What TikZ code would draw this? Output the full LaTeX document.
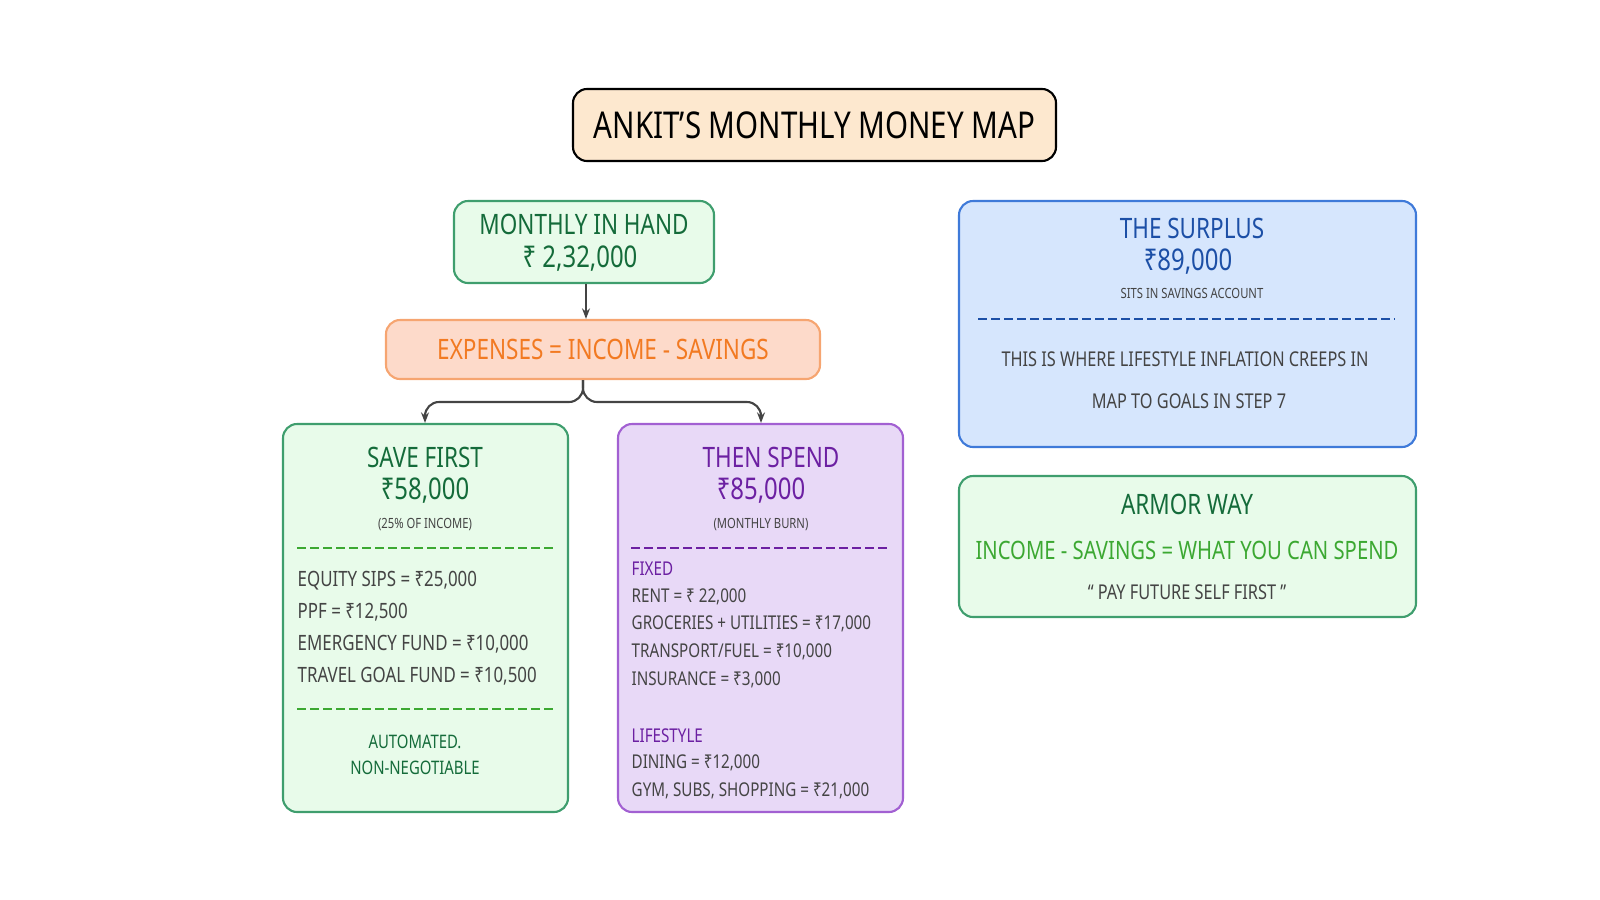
\documentclass[tikz,border=0pt]{standalone}
\usepackage{fontspec}
\setmainfont{Noto Sans}[FakeStretch=0.8]
\usetikzlibrary{arrows.meta}
\definecolor{tfill}{HTML}{FDE8CF}
\definecolor{gfill}{HTML}{E8FBEA}
\definecolor{gline}{HTML}{3F9E6E}
\definecolor{gtext}{HTML}{146B3A}
\definecolor{ofill}{HTML}{FDDACA}
\definecolor{oline}{HTML}{F6A571}
\definecolor{otext}{HTML}{F27A22}
\definecolor{pfill}{HTML}{E8D9F7}
\definecolor{pline}{HTML}{A260D2}
\definecolor{ptext}{HTML}{6C20A2}
\definecolor{bfill}{HTML}{D6E6FD}
\definecolor{bline}{HTML}{3F7AD9}
\definecolor{btext}{HTML}{1C4FA6}
\definecolor{body}{HTML}{444444}
\definecolor{lgreen}{HTML}{3CA832}
\tikzset{
 box/.style={draw, line width=0.6pt, rounded corners=4pt},
 hd/.style={font=\fontsize{8}{10}\selectfont},
 big/.style={font=\fontsize{8.5}{10}\selectfont},
 sm/.style={font=\fontsize{4}{5}\selectfont, text=body},
 bd/.style={font=\fontsize{6}{7}\selectfont, text=body, anchor=west, inner sep=0},
 sep/.style={dashed, dash pattern=on 2.5pt off 1.2pt, line width=0.5pt},
 conn/.style={draw=body, line width=0.6pt, -{Stealth[length=3pt]}, rounded corners=4pt}
}
\begin{document}
\begin{tikzpicture}[x=0.01cm,y=-0.01cm]
\useasboundingbox (0,0) rectangle (1600,900);
% title
\node[box, fill=tfill, draw=black, minimum width=483*0.01cm, minimum height=72*0.01cm] (title) at (814.5,125) {};
\node[font=\fontsize{10.5}{12}\selectfont] (tt) at (title) {ANKIT’S MONTHLY MONEY MAP};
% monthly
\node[box, fill=gfill, draw=gline, minimum width=260*0.01cm, minimum height=82*0.01cm] (inhand) at (584,242) {};
\node[hd, text=gtext] (ih1) at (584,224) {MONTHLY IN HAND};
\node[big, text=gtext] (ih2) at (580,259) {₹ 2,32,000};
% expenses
\node[box, fill=ofill, draw=oline, minimum width=434*0.01cm, minimum height=59*0.01cm] (exp) at (603,349.5) {};
\node[hd, text=otext] (expt) at (603,349) {EXPENSES = INCOME - SAVINGS};
% save first
\node[box, fill=gfill, draw=gline, minimum width=285*0.01cm, minimum height=388*0.01cm] (save) at (425.5,618) {};
\node[hd, text=gtext] (s1) at (425,457) {SAVE FIRST};
\node[big, text=gtext] (s2) at (425,491) {₹58,000};
\node[sm] (s3) at (425,525) {(25\% OF INCOME)};
\draw[lgreen, sep] (297,548) -- (555,548);
\node[bd] (s4) at (297,581) {EQUITY SIPS = ₹25,000};
\node[bd] (s5) at (297,612) {PPF = ₹12,500};
\node[bd] (s6) at (297,644) {EMERGENCY FUND = ₹10,000};
\node[bd] (s7) at (297,676) {TRAVEL GOAL FUND = ₹10,500};
\draw[lgreen, sep] (297,709) -- (555,709);
\node[font=\fontsize{5.3}{7.5}\selectfont, text=gtext, align=center] (s8) at (415,755) {AUTOMATED.\\NON-NEGOTIABLE};
% then spend
\node[box, fill=pfill, draw=pline, minimum width=285*0.01cm, minimum height=388*0.01cm] (spend) at (760.5,618) {};
\node[hd, text=ptext] (p1) at (771,457) {THEN SPEND};
\node[big, text=ptext] (p2) at (761,491) {₹85,000};
\node[sm] (p3) at (761,525) {(MONTHLY BURN)};
\draw[ptext, sep] (631,548) -- (890,548);
\node[bd, text=ptext, font=\fontsize{5.4}{7}\selectfont] (p4) at (631,569) {FIXED};
\node[bd, font=\fontsize{5.4}{7}\selectfont] (p5) at (631,597) {RENT = ₹ 22,000};
\node[bd, font=\fontsize{5.4}{7}\selectfont] (p6) at (631,624) {GROCERIES + UTILITIES = ₹17,000};
\node[bd, font=\fontsize{5.4}{7}\selectfont] (p7) at (631,652) {TRANSPORT/FUEL = ₹10,000};
\node[bd, font=\fontsize{5.4}{7}\selectfont] (p8) at (631,680) {INSURANCE = ₹3,000};
\node[bd, text=ptext, font=\fontsize{5.4}{7}\selectfont] (p9) at (631,736) {LIFESTYLE};
\node[bd, font=\fontsize{5.4}{7}\selectfont] (p10) at (631,763) {DINING = ₹12,000};
\node[bd, font=\fontsize{5.4}{7}\selectfont] (p11) at (631,791) {GYM, SUBS, SHOPPING = ₹21,000};
% surplus
\node[box, fill=bfill, draw=bline, minimum width=457*0.01cm, minimum height=246*0.01cm] (sur) at (1187.5,324) {};
\node[hd, text=btext] (u1) at (1192,228) {THE SURPLUS};
\node[big, text=btext] (u2) at (1188,262) {₹89,000};
\node[sm] (u3) at (1192,293) {SITS IN SAVINGS ACCOUNT};
\draw[btext, sep] (978,319) -- (1395,319);
\node[font=\fontsize{5.8}{7}\selectfont, text=body] (u4) at (1185,359) {THIS IS WHERE LIFESTYLE INFLATION CREEPS IN};
\node[font=\fontsize{5.8}{7}\selectfont, text=body] (u5) at (1189,401) {MAP TO GOALS IN STEP 7};
% armor
\node[box, fill=gfill, draw=gline, minimum width=457*0.01cm, minimum height=141*0.01cm] (arm) at (1187.5,546.5) {};
\node[hd, text=gtext] (a1) at (1187,504) {ARMOR WAY};
\node[font=\fontsize{7.2}{8}\selectfont, text=lgreen] (a2) at (1187,550) {INCOME - SAVINGS = WHAT YOU CAN SPEND};
\node[font=\fontsize{5.8}{7}\selectfont, text=body] (a3) at (1187,592) {“ PAY FUTURE SELF FIRST ”};
% connectors
\draw[conn] (inhand.south -| 586,0) -- (exp.north -| 586,0);
\draw[conn] (exp.south -| 583,0) -- (583,402) -- (425,402) -- (save.north -| 425,0);
\draw[conn] (exp.south -| 583,0) -- (583,402) -- (761,402) -- (spend.north -| 761,0);
\end{tikzpicture}
\end{document}
